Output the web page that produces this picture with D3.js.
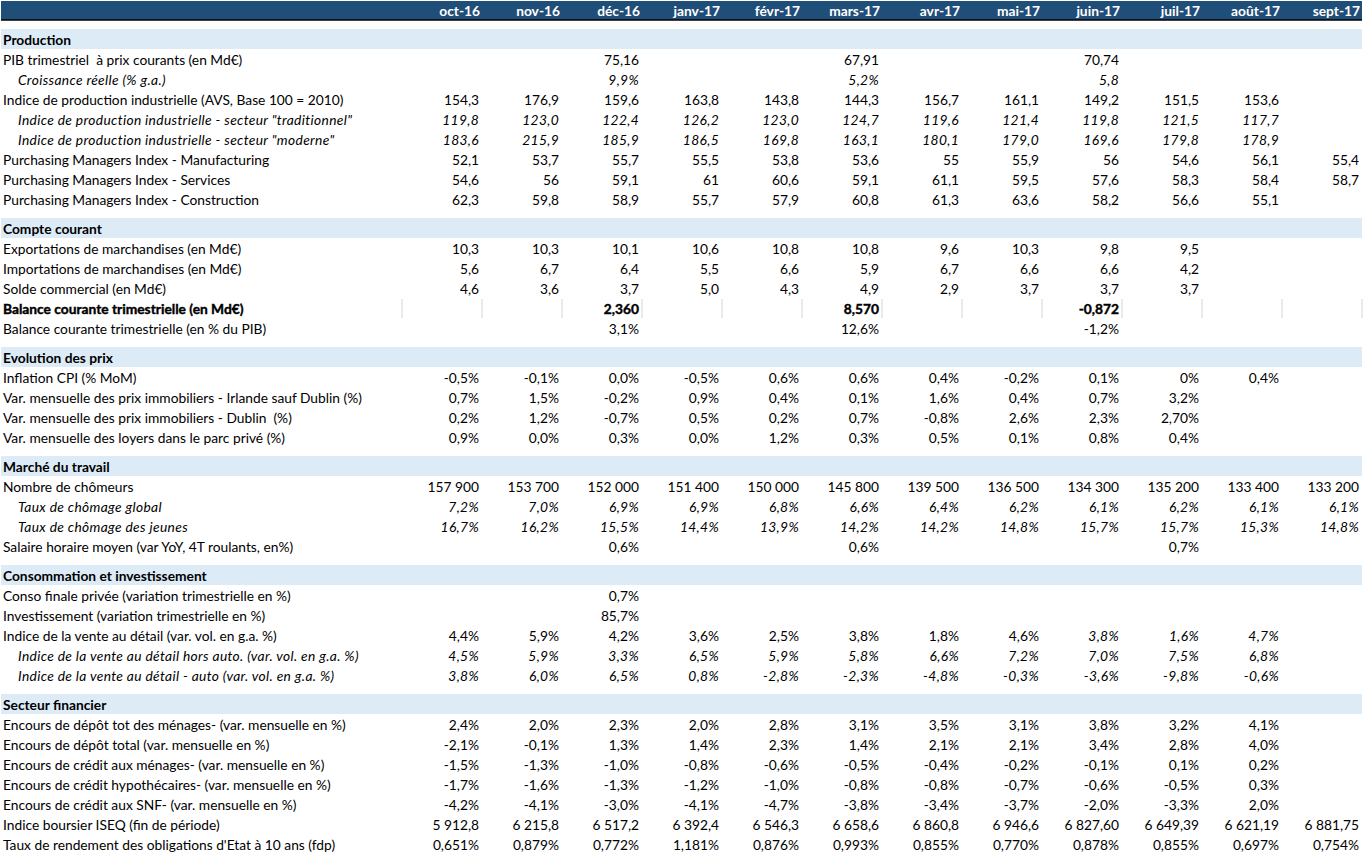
<!DOCTYPE html>
<html>
<head>
<meta charset="utf-8">
<script src="https://cdn.jsdelivr.net/npm/d3@7"></script>
<style>
  html, body { margin: 0; padding: 0; background: #fff; }
  svg { display: block; }
  svg text { white-space: pre; }
</style>
</head>
<body>
<script>
// ---------------- DATA ----------------
const months = ["oct-16","nov-16","déc-16","janv-17","févr-17","mars-17","avr-17","mai-17","juin-17","juil-17","août-17","sept-17"];

const sectionTitles = ["Production","Compte courant","Evolution des prix","Marché du travail","Consommation et investissement","Secteur financier"];

// Production
const pibCourant      = ["","","75,16","","","67,91","","","70,74","","",""];
const croissanceReelle= ["","","9,9%","","","5,2%","","","5,8","","",""];
const ipi             = ["154,3","176,9","159,6","163,8","143,8","144,3","156,7","161,1","149,2","151,5","153,6",""];
const ipiTrad         = ["119,8","123,0","122,4","126,2","123,0","124,7","119,6","121,4","119,8","121,5","117,7",""];
const ipiModerne      = ["183,6","215,9","185,9","186,5","169,8","163,1","180,1","179,0","169,6","179,8","178,9",""];
const pmiManuf        = ["52,1","53,7","55,7","55,5","53,8","53,6","55","55,9","56","54,6","56,1","55,4"];
const pmiServices     = ["54,6","56","59,1","61","60,6","59,1","61,1","59,5","57,6","58,3","58,4","58,7"];
const pmiConstruction = ["62,3","59,8","58,9","55,7","57,9","60,8","61,3","63,6","58,2","56,6","55,1",""];

// Compte courant
const exportations    = ["10,3","10,3","10,1","10,6","10,8","10,8","9,6","10,3","9,8","9,5","",""];
const importations    = ["5,6","6,7","6,4","5,5","6,6","5,9","6,7","6,6","6,6","4,2","",""];
const soldeCommercial = ["4,6","3,6","3,7","5,0","4,3","4,9","2,9","3,7","3,7","3,7","",""];
const balanceMd       = ["","","2,360","","","8,570","","","-0,872","","",""];
const balancePib      = ["","","3,1%","","","12,6%","","","-1,2%","","",""];

// Evolution des prix
const inflationCpi    = ["-0,5%","-0,1%","0,0%","-0,5%","0,6%","0,6%","0,4%","-0,2%","0,1%","0%","0,4%",""];
const immoHorsDublin  = ["0,7%","1,5%","-0,2%","0,9%","0,4%","0,1%","1,6%","0,4%","0,7%","3,2%","",""];
const immoDublin      = ["0,2%","1,2%","-0,7%","0,5%","0,2%","0,7%","-0,8%","2,6%","2,3%","2,70%","",""];
const loyers          = ["0,9%","0,0%","0,3%","0,0%","1,2%","0,3%","0,5%","0,1%","0,8%","0,4%","",""];

// Marché du travail
const chomeurs        = ["157 900","153 700","152 000","151 400","150 000","145 800","139 500","136 500","134 300","135 200","133 400","133 200"];
const tauxGlobal      = ["7,2%","7,0%","6,9%","6,9%","6,8%","6,6%","6,4%","6,2%","6,1%","6,2%","6,1%","6,1%"];
const tauxJeunes      = ["16,7%","16,2%","15,5%","14,4%","13,9%","14,2%","14,2%","14,8%","15,7%","15,7%","15,3%","14,8%"];
const salaireHoraire  = ["","","0,6%","","","0,6%","","","","0,7%","",""];

// Consommation et investissement
const consoPrivee     = ["","","0,7%","","","","","","","","",""];
const investissement  = ["","","85,7%","","","","","","","","",""];
const venteDetail     = ["4,4%","5,9%","4,2%","3,6%","2,5%","3,8%","1,8%","4,6%","3,8%","1,6%","4,7%",""];
const venteHorsAuto   = ["4,5%","5,9%","3,3%","6,5%","5,9%","5,8%","6,6%","7,2%","7,0%","7,5%","6,8%",""];
const venteAuto       = ["3,8%","6,0%","6,5%","0,8%","-2,8%","-2,3%","-4,8%","-0,3%","-3,6%","-9,8%","-0,6%",""];

// Secteur financier
const depotMenages    = ["2,4%","2,0%","2,3%","2,0%","2,8%","3,1%","3,5%","3,1%","3,8%","3,2%","4,1%",""];
const depotTotal      = ["-2,1%","-0,1%","1,3%","1,4%","2,3%","1,4%","2,1%","2,1%","3,4%","2,8%","4,0%",""];
const creditMenages   = ["-1,5%","-1,3%","-1,0%","-0,8%","-0,6%","-0,5%","-0,4%","-0,2%","-0,1%","0,1%","0,2%",""];
const creditHypo      = ["-1,7%","-1,6%","-1,3%","-1,2%","-1,0%","-0,8%","-0,8%","-0,7%","-0,6%","-0,5%","0,3%",""];
const creditSnf       = ["-4,2%","-4,1%","-3,0%","-4,1%","-4,7%","-3,8%","-3,4%","-3,7%","-2,0%","-3,3%","2,0%",""];
const iseq            = ["5 912,8","6 215,8","6 517,2","6 392,4","6 546,3","6 658,6","6 860,8","6 946,6","6 827,60","6 649,39","6 621,19","6 881,75"];
const oat10           = ["0,651%","0,879%","0,772%","1,181%","0,876%","0,993%","0,855%","0,770%","0,878%","0,855%","0,697%","0,754%"];

// ---------------- TABLE STRUCTURE ----------------
const table = [
  { title: sectionTitles[0], rows: [
    { label: "PIB trimestriel  à prix courants (en Md€)", style: "n", values: pibCourant },
    { label: "Croissance réelle (% g.a.)", style: "i", values: croissanceReelle },
    { label: "Indice de production industrielle (AVS, Base 100 = 2010)", style: "n", values: ipi },
    { label: "Indice de production industrielle - secteur \"traditionnel\"", style: "i", values: ipiTrad },
    { label: "Indice de production industrielle - secteur \"moderne\"", style: "i", values: ipiModerne },
    { label: "Purchasing Managers Index - Manufacturing", style: "n", values: pmiManuf },
    { label: "Purchasing Managers Index - Services", style: "n", values: pmiServices },
    { label: "Purchasing Managers Index - Construction", style: "n", values: pmiConstruction }
  ]},
  { title: sectionTitles[1], rows: [
    { label: "Exportations de marchandises (en Md€)", style: "n", values: exportations },
    { label: "Importations de marchandises (en Md€)", style: "n", values: importations },
    { label: "Solde commercial (en Md€)", style: "n", values: soldeCommercial },
    { label: "Balance courante trimestrielle (en Md€)", style: "b", values: balanceMd },
    { label: "Balance courante trimestrielle (en % du PIB)", style: "n", values: balancePib }
  ]},
  { title: sectionTitles[2], rows: [
    { label: "Inflation CPI (% MoM)", style: "n", values: inflationCpi },
    { label: "Var. mensuelle des prix immobiliers - Irlande sauf Dublin (%)", style: "n", values: immoHorsDublin },
    { label: "Var. mensuelle des prix immobiliers - Dublin  (%)", style: "n", values: immoDublin },
    { label: "Var. mensuelle des loyers dans le parc privé (%)", style: "n", values: loyers }
  ]},
  { title: sectionTitles[3], rows: [
    { label: "Nombre de chômeurs", style: "n", values: chomeurs },
    { label: "Taux de chômage global", style: "i", values: tauxGlobal },
    { label: "Taux de chômage des jeunes", style: "i", values: tauxJeunes },
    { label: "Salaire horaire moyen (var YoY, 4T roulants, en%)", style: "n", values: salaireHoraire }
  ]},
  { title: sectionTitles[4], rows: [
    { label: "Conso finale privée (variation trimestrielle en %)", style: "n", values: consoPrivee },
    { label: "Investissement (variation trimestrielle en %)", style: "n", values: investissement },
    { label: "Indice de la vente au détail (var. vol. en g.a. %)", style: "n", values: venteDetail, italicFrom: 8 },
    { label: "Indice de la vente au détail hors auto. (var. vol. en g.a. %)", style: "i", values: venteHorsAuto },
    { label: "Indice de la vente au détail - auto (var. vol. en g.a. %)", style: "i", values: venteAuto }
  ]},
  { title: sectionTitles[5], rows: [
    { label: "Encours de dépôt tot des ménages- (var. mensuelle en %)", style: "n", values: depotMenages },
    { label: "Encours de dépôt total (var. mensuelle en %)", style: "n", values: depotTotal },
    { label: "Encours de crédit aux ménages- (var. mensuelle en %)", style: "n", values: creditMenages },
    { label: "Encours de crédit hypothécaires- (var. mensuelle en %)", style: "n", values: creditHypo },
    { label: "Encours de crédit aux SNF- (var. mensuelle en %)", style: "n", values: creditSnf },
    { label: "Indice boursier ISEQ (fin de période)", style: "n", values: iseq },
    { label: "Taux de rendement des obligations d'Etat à 10 ans (fdp)", style: "n", values: oat10 }
  ]}
];

// ---------------- LAYOUT ----------------
const W = 1364, H = 856;
const FONT = "Lato, 'Open Sans', sans-serif";
const headerBg = "#1F4E78", sectionBg = "#DDEBF7";
const left = 1, right = 1362, labelEnd = 402;
const headerH = 20, gap = 9, rowH = 20;

const svg = d3.select("body").append("svg").attr("width", W).attr("height", H)
  .style("font-family", FONT);

// fit font-size to reference text width
function measure(txt, size, italic) {
  const p = svg.append("text").attr("font-size", size)
    .attr("font-style", italic ? "italic" : "normal").text(txt);
  const w = p.node().getComputedTextLength();
  p.remove();
  return w;
}
const refN = "Indice de production industrielle (AVS, Base 100 = 2010)";
const fs = 14 * 341 / measure(refN, 14, false);
const refI = "Indice de production industrielle - secteur \"traditionnel\"";
const lsI = Math.max(0, (334 - measure(refI, fs, true)) / refI.length);

const x = d3.scaleBand().domain(months).range([labelEnd, right]);

// header
svg.append("rect").attr("x", left).attr("y", 1).attr("width", right - left).attr("height", headerH - 1)
  .attr("fill", headerBg);
svg.append("line").attr("x1", left).attr("x2", right).attr("y1", headerH).attr("y2", headerH)
  .attr("stroke", "#000").attr("stroke-width", 1.5);
svg.append("g").selectAll("text").data(months).join("text")
  .attr("x", d => x(d) + x.bandwidth() - 2)
  .attr("y", 15.5)
  .attr("text-anchor", "end")
  .attr("font-size", fs).attr("font-weight", "bold").attr("fill", "#fff")
  .text(d => d);

// sections
let yCursor = headerH;
table.forEach(sec => {
  const bandTop = yCursor + gap;
  const g = svg.append("g");
  g.append("rect").attr("x", left).attr("y", bandTop).attr("width", right - left).attr("height", rowH)
    .attr("fill", sectionBg);
  g.append("text").attr("x", 3).attr("y", bandTop + 16)
    .attr("font-size", fs).attr("font-weight", "bold").attr("fill", "#000")
    .text(sec.title);

  const y = d3.scaleBand().domain(d3.range(sec.rows.length))
    .range([bandTop + rowH, bandTop + rowH * (sec.rows.length + 1)]);

  sec.rows.forEach((r, i) => {
    const top = y(i);
    const rg = g.append("g");
    if (r.style === "b") {
      rg.selectAll("line").data(months.concat([null])).join("line")
        .attr("x1", d => d ? x(d) : right).attr("x2", d => d ? x(d) : right)
        .attr("y1", top + 1).attr("y2", top + rowH)
        .attr("stroke", "#D4D4D4").attr("stroke-width", 1);
    }
    const isI = r.style === "i";
    rg.append("text")
      .attr("x", isI ? 18 : 3).attr("y", top + 16)
      .attr("font-size", fs)
      .attr("letter-spacing", isI ? lsI : 0)
      .attr("font-style", isI ? "italic" : "normal")
      .attr("font-weight", r.style === "b" ? "bold" : "normal")
      .attr("stroke", r.style === "b" ? "#000" : "none").attr("stroke-width", 0.4)
      .attr("fill", "#000")
      .text(r.label);
    const cells = r.values.map((v, j) => ({ v, m: months[j],
      it: isI || (r.italicFrom !== undefined && j >= r.italicFrom) }))
      .filter(c => c.v !== "");
    rg.selectAll("text.val").data(cells).join("text").attr("class", "val")
      .attr("x", c => x(c.m) + x.bandwidth() - (c.it ? 3 : 3))
      .attr("y", top + 16)
      .attr("text-anchor", "end")
      .attr("font-size", fs)
      .attr("letter-spacing", c => c.it ? lsI : 0)
      .attr("font-style", c => c.it ? "italic" : "normal")
      .attr("font-weight", r.style === "b" ? "bold" : "normal")
      .attr("stroke", r.style === "b" ? "#000" : "none").attr("stroke-width", 0.4)
      .attr("fill", "#000")
      .text(c => c.v);
  });
  yCursor = bandTop + rowH * (sec.rows.length + 1);
});
</script>
</body>
</html>
